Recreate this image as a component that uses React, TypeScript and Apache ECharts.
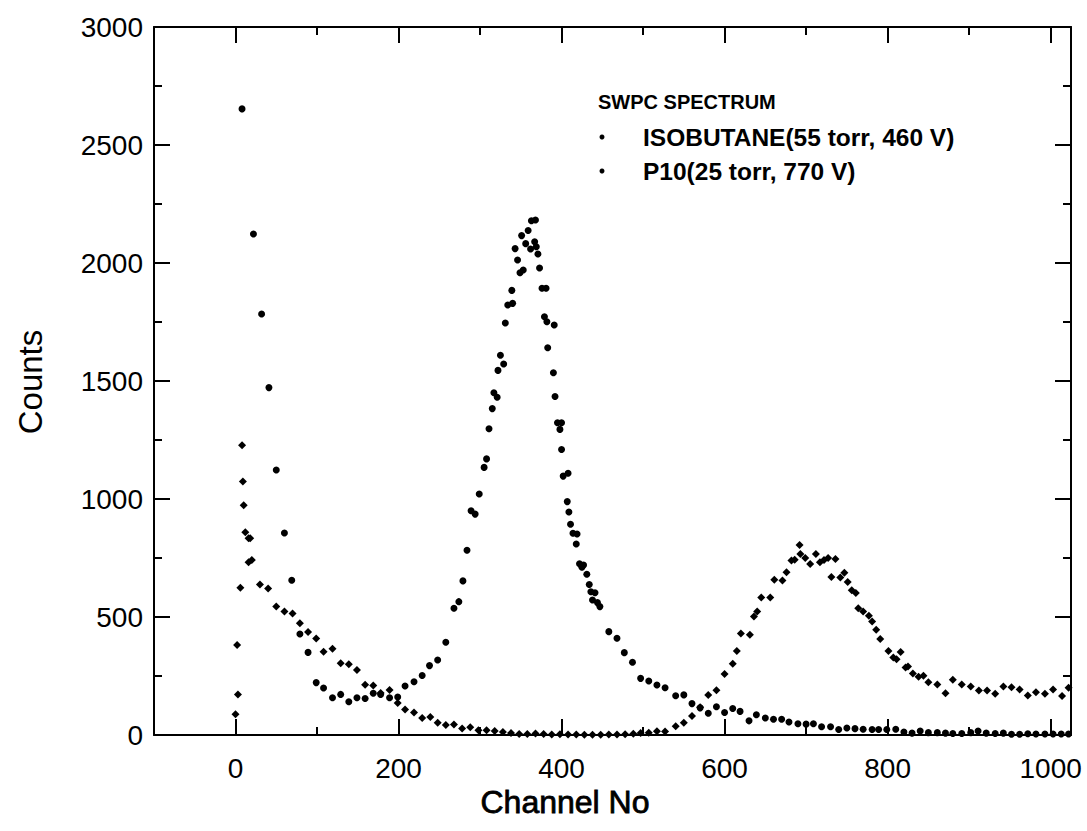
import React, { useEffect, useRef } from "react";
import * as echarts from "echarts";

// Axis tick values
const xMajorTicks = [0, 200, 400, 600, 800, 1000];
const xMinorTicks = [100, 300, 500, 700, 900];

// ISOBUTANE (55 torr, 460 V) — [channel, counts]
const isoLowChannel: [number, number][] = [
  [8, 2653], [22, 2123], [32, 1784], [41, 1472], [50, 1123], [60, 856], [69, 656],
  [79, 428], [89, 350], [99, 222], [108, 199], [119, 158], [129, 172], [139, 141],
  [149, 158], [159, 155], [169, 177], [178, 172], [189, 158], [199, 161], [208, 208],
  [219, 226], [229, 252], [238, 294], [248, 318], [258, 393], [268, 537], [274, 565],
  [279, 653], [284, 783], [289, 950], [294, 936], [299, 1021], [305, 1134], [308, 1170],
];
const isoPeak: [number, number][] = [
  [311, 1298], [315, 1383], [317, 1450], [321, 1431], [322, 1545], [325, 1609], [329, 1572],
  [331, 1746], [334, 1822], [339, 1884], [340, 1829], [343, 2061], [346, 2013], [349, 1959],
  [351, 2116], [353, 1970], [356, 2082], [359, 2138], [362, 2059], [363, 2179], [367, 2090],
  [368, 2182], [369, 2069], [371, 2038], [373, 1979], [376, 1893], [379, 1772], [381, 1893],
  [382, 1751], [383, 1641], [390, 1535], [391, 1737], [392, 1434], [395, 1323], [398, 1295],
  [400, 1323], [400, 1210], [402, 1097], [407, 989], [408, 1109], [409, 945], [411, 893],
  [414, 855], [418, 809], [419, 852], [422, 726], [425, 711], [427, 720], [431, 681],
  [434, 638], [436, 607], [438, 572], [441, 603], [444, 561], [447, 544],
];
const isoTail: [number, number][] = [
  [458, 438], [468, 410], [477, 349], [487, 308], [497, 240], [507, 229], [517, 212],
  [527, 200], [540, 166], [550, 170], [560, 133], [570, 115], [580, 92], [590, 120],
  [600, 95], [610, 112], [619, 100], [630, 60], [639, 86], [650, 72], [660, 67], [670, 67],
  [679, 55], [690, 48], [700, 46], [709, 48], [719, 35], [730, 35], [740, 23], [750, 30],
  [760, 27], [770, 24], [781, 23], [789, 23], [799, 23], [810, 24], [820, 13], [830, 8],
  [840, 17], [850, 10], [861, 10], [871, 8], [880, 6], [891, 6], [902, 10], [911, 17],
  [921, 8], [932, 6], [942, 8], [952, 3], [962, 3], [972, 5], [982, 4], [993, 4],
  [1003, 4], [1013, 4], [1022, 4],
];

// P10 (25 torr, 770 V) — [channel, counts]
const p10Start: [number, number][] = [
  [0, 88], [2, 381], [3, 172], [6, 624], [8, 1228], [9, 1074], [10, 973], [12, 859],
  [16, 834], [18, 834], [16, 732], [20, 741], [30, 638], [40, 621], [50, 544], [60, 523],
  [70, 515], [79, 474], [89, 436], [99, 409], [108, 353], [119, 365], [129, 304],
  [139, 300], [149, 275], [159, 213], [169, 210], [178, 178], [189, 191], [199, 136],
  [208, 108], [219, 95], [229, 72], [239, 76], [248, 52], [258, 42], [268, 45], [278, 28],
  [288, 33], [298, 20], [308, 20], [318, 17], [328, 13], [338, 8], [348, 4], [358, 4],
  [368, 6], [378, 4], [388, 2], [398, 3], [408, 2], [418, 2], [428, 1], [438, 1],
  [448, 1], [458, 2], [468, 2], [478, 3], [488, 5],
];
const p10Peak: [number, number][] = [
  [497, 8], [507, 10], [517, 16], [527, 15], [540, 37], [550, 52], [560, 81], [570, 118],
  [580, 170], [590, 190], [600, 258], [610, 302], [615, 356], [620, 430], [631, 425],
  [636, 502], [640, 523], [645, 583], [656, 583], [661, 658], [671, 655], [676, 690],
  [682, 739], [686, 743], [692, 805], [693, 767], [699, 750], [705, 725], [712, 767],
  [717, 732], [722, 742], [727, 750], [731, 669], [736, 746], [742, 667], [747, 687],
  [751, 648], [756, 613], [761, 602], [764, 537], [770, 523], [777, 505], [781, 481],
  [786, 446], [791, 407], [801, 356], [807, 328], [811, 321], [816, 352], [822, 286],
  [825, 290], [831, 261], [838, 247], [844, 251], [850, 223],
];
const p10Tail: [number, number][] = [
  [861, 214], [871, 177], [880, 234], [891, 214], [902, 205], [912, 189], [922, 189],
  [932, 175], [942, 206], [952, 202], [962, 193], [972, 167], [982, 181], [993, 175],
  [1003, 193], [1014, 165], [1022, 200],
];

const FONT = '"Liberation Sans", Arial, Helvetica, sans-serif';
const BLACK = "#000";

export default function App() {
  const ref = useRef<HTMLDivElement>(null);

  useEffect(() => {
    document.body.style.margin = "0";
    if (!ref.current) return;
    const chart = echarts.init(ref.current, null, { renderer: "svg" });

    const lineStyle = { color: BLACK, width: 2 };
    const plain = (v: number) => String(v);
    const xBase = (position: "top" | "bottom", major: boolean, showLine: boolean, showLabel: boolean) => ({
      type: "value" as const,
      min: -100,
      max: 1025,
      position,
      axisLine: { show: showLine, onZero: false, lineStyle },
      axisTick: {
        show: true,
        inside: true,
        length: major ? 16 : 8,
        customValues: major ? xMajorTicks : xMinorTicks,
        lineStyle,
      },
      axisLabel: {
        show: showLabel,
        customValues: xMajorTicks,
        formatter: plain,
        color: BLACK,
        fontSize: 28,
        fontFamily: FONT,
        margin: 19,
      },
      splitLine: { show: false },
    });
    const yBase = (position: "left" | "right", showLabel: boolean) => ({
      type: "value" as const,
      min: 0,
      max: 3000,
      interval: 500,
      position,
      axisLine: { show: true, onZero: false, lineStyle },
      axisTick: { show: true, inside: true, length: 16, lineStyle },
      minorTick: { show: true, splitNumber: 2, length: 8, lineStyle },
      axisLabel: {
        show: showLabel,
        formatter: plain,
        color: BLACK,
        fontSize: 28,
        fontFamily: FONT,
        margin: 11,
      },
      splitLine: { show: false },
      minorSplitLine: { show: false },
    });

    chart.setOption({
      animation: false,
      backgroundColor: "#fff",
      grid: { left: 154, right: 16, top: 27, bottom: 96, containLabel: false },
      xAxis: [
        xBase("bottom", true, true, true),
        xBase("bottom", false, false, false),
        xBase("top", true, true, false),
        xBase("top", false, false, false),
      ],
      yAxis: [yBase("left", true), yBase("right", false)],
      series: [
        {
          name: "ISOBUTANE(55 torr, 460 V)",
          type: "scatter",
          xAxisIndex: 0,
          yAxisIndex: 0,
          symbol: "circle",
          symbolSize: 7,
          itemStyle: { color: BLACK, opacity: 1 },
          data: [...isoLowChannel, ...isoPeak, ...isoTail],
        },
        {
          name: "P10(25 torr, 770 V)",
          type: "scatter",
          xAxisIndex: 0,
          yAxisIndex: 0,
          symbol: "diamond",
          symbolSize: 8,
          itemStyle: { color: BLACK, opacity: 1 },
          data: [...p10Start, ...p10Peak, ...p10Tail],
        },
      ],
      graphic: [
        {
          type: "text",
          x: 30,
          y: 382,
          rotation: Math.PI / 2,
          style: {
            text: "Counts",
            font: `33px ${FONT}`,
            fill: BLACK,
            textAlign: "center",
            textVerticalAlign: "middle",
          },
        },
        {
          type: "text",
          x: 565,
          y: 802,
          style: {
            text: "Channel No",
            font: `32px ${FONT}`,
            fill: BLACK,
            stroke: BLACK,
            lineWidth: 0.8,
            textAlign: "center",
            textVerticalAlign: "middle",
          },
        },
        {
          type: "text",
          x: 598,
          y: 102,
          style: {
            text: "SWPC SPECTRUM",
            font: `bold 20px ${FONT}`,
            fill: BLACK,
            textAlign: "left",
            textVerticalAlign: "middle",
          },
        },
        { type: "circle", shape: { cx: 602, cy: 137, r: 2.5 }, style: { fill: BLACK } },
        {
          type: "text",
          x: 643,
          y: 137,
          style: {
            text: "ISOBUTANE(55 torr, 460 V)",
            font: `bold 24.5px ${FONT}`,
            fill: BLACK,
            textAlign: "left",
            textVerticalAlign: "middle",
          },
        },
        { type: "circle", shape: { cx: 602, cy: 171, r: 2.5 }, style: { fill: BLACK } },
        {
          type: "text",
          x: 643,
          y: 171,
          style: {
            text: "P10(25 torr, 770 V)",
            font: `bold 24.5px ${FONT}`,
            fill: BLACK,
            textAlign: "left",
            textVerticalAlign: "middle",
          },
        },
      ],
    });

    return () => chart.dispose();
  }, []);

  return <div ref={ref} style={{ width: 1087, height: 831 }} />;
}
